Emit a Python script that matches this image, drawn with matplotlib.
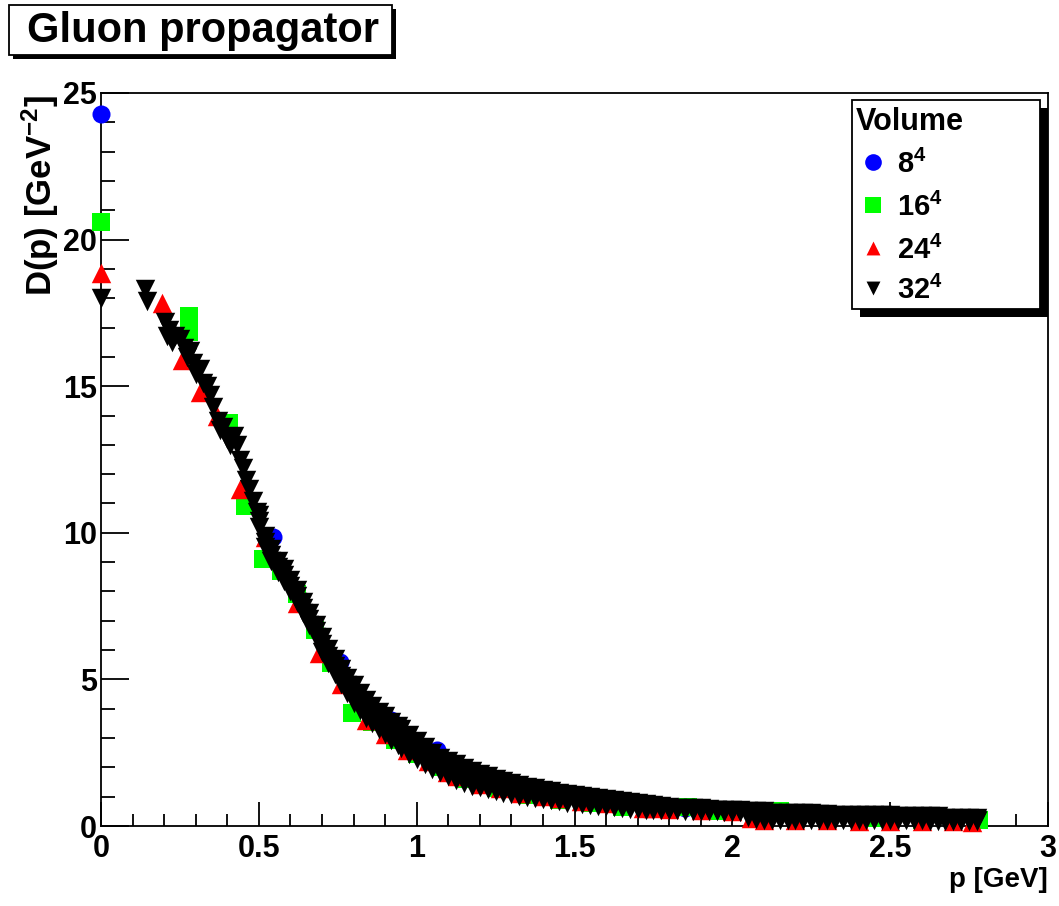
import matplotlib
matplotlib.use("Agg")
import matplotlib.pyplot as plt
from matplotlib.patches import Rectangle
from matplotlib.ticker import MultipleLocator, FuncFormatter

W, H = 1059, 906

plt.rcParams['font.family'] = ['Liberation Sans', 'DejaVu Sans']
plt.rcParams['font.weight'] = 'bold'
plt.rcParams['mathtext.fontset'] = 'custom'
plt.rcParams['mathtext.rm'] = 'Liberation Sans:bold'
plt.rcParams['mathtext.it'] = 'Liberation Sans:bold'
plt.rcParams['mathtext.bf'] = 'Liberation Sans:bold'

# 8^4 lattice
v8_p = [0.0, 0.545, 0.757, 0.92, 1.063, 1.3, 1.55, 1.85, 2.2]
v8_d = [24.3, 9.86, 5.6, 3.62, 2.6, 1.3, 0.85, 0.6, 0.4]

# 16^4 lattice
v16_p = [0.0, 0.28, 0.28, 0.405, 0.455, 0.513, 0.57, 0.62, 0.678, 0.73,
         0.795, 0.86, 0.93, 1.0, 1.08, 1.16, 1.25, 1.35, 1.45, 1.55,
         1.65, 1.75, 1.86, 1.96, 2.15, 2.3, 2.45, 2.6, 2.78]
v16_d = [20.6, 17.4, 16.85, 13.75, 10.9, 9.1, 8.7, 7.9, 6.7, 5.55,
         3.85, 3.55, 2.95, 2.45, 2.0, 1.62, 1.3, 1.07, 0.9, 0.78,
         0.66, 0.6, 0.66, 0.5, 0.5, 0.3, 0.28, 0.22, 0.22]

# 24^4 lattice
v24_p = [0.0, 0.192, 0.256, 0.314, 0.366, 0.44, 0.519, 0.62, 0.69, 0.76,
         0.84, 0.9, 0.968, 1.036, 1.095, 1.127, 1.2, 1.264, 1.33, 1.4,
         1.454, 1.52, 1.6, 1.717, 1.75, 1.8, 1.9, 2.0, 2.06, 2.1,
         2.2, 2.3, 2.4, 2.5, 2.6, 2.7, 2.76]
v24_d = [18.85, 17.85, 15.9, 14.8, 14.0, 11.5, 9.86, 7.6, 5.9, 4.85,
         3.6, 3.15, 2.58, 2.2, 1.85, 1.7, 1.43, 1.3, 1.14, 1.02,
         0.94, 0.85, 0.77, 0.63, 0.6, 0.57, 0.55, 0.52, 0.28, 0.2,
         0.2, 0.19, 0.18, 0.18, 0.17, 0.16, 0.15]

# 32^4 lattice, infrared points
v32_p_ir = [0.0, 0.139, 0.145, 0.203, 0.208, 0.215, 0.225, 0.235, 0.25, 0.262,
            0.272, 0.282, 0.29, 0.30, 0.314, 0.322, 0.335, 0.345, 0.355, 0.37,
            0.378, 0.388, 0.40, 0.41, 0.42, 0.43, 0.44, 0.45, 0.46, 0.47,
            0.48, 0.493]
v32_d_ir = [18.0, 18.3, 17.9, 17.2, 16.7, 16.9, 16.5, 16.7, 16.6, 16.3,
            16.0, 16.2, 15.8, 15.4, 15.6, 15.1, 15.0, 14.7, 14.3, 13.8,
            13.5, 13.6, 13.2, 13.0, 13.3, 13.0, 12.5, 12.2, 11.8, 11.5,
            11.1, 10.7]

# 32^4 lattice above 0.5 GeV: upper, middle and lower spread of the band
v32_p = [0.50, 0.52, 0.54, 0.56, 0.58, 0.60, 0.62, 0.64, 0.66, 0.68,
         0.70, 0.72, 0.74, 0.76, 0.78, 0.80, 0.82, 0.84, 0.86, 0.88,
         0.90, 0.92, 0.94,
         0.950, 0.975, 1.000, 1.025, 1.050, 1.075, 1.100, 1.125, 1.150, 1.175,
         1.200, 1.225, 1.250, 1.275, 1.300, 1.325, 1.350, 1.375, 1.400, 1.425,
         1.450, 1.475, 1.500, 1.525, 1.550, 1.575, 1.600, 1.625, 1.650, 1.675,
         1.700, 1.725, 1.750, 1.775, 1.800, 1.825, 1.850, 1.875, 1.900, 1.925,
         1.950, 1.975, 2.000, 2.025, 2.050, 2.075, 2.100, 2.125, 2.150, 2.175,
         2.200, 2.225, 2.250, 2.275, 2.300, 2.325, 2.350, 2.375, 2.400, 2.425,
         2.450, 2.475, 2.500, 2.525, 2.550, 2.575, 2.600, 2.625, 2.650, 2.675,
         2.700, 2.725, 2.750, 2.775]
v32_d_hi = [10.6, 9.9, 9.45, 9.05, 8.75, 8.4, 8.05, 7.65, 7.25, 6.85,
            6.45, 6.05, 5.7, 5.35, 5.05, 4.8, 4.55, 4.3, 4.1, 3.9,
            3.75, 3.55, 3.4,
            3.32, 3.1, 2.9, 2.68, 2.48, 2.33, 2.2, 2.1, 1.99, 1.89,
            1.79, 1.69, 1.60, 1.52, 1.45, 1.39, 1.33, 1.28, 1.23, 1.18,
            1.14, 1.10, 1.06, 1.02, 0.98, 0.94, 0.91, 0.88, 0.84, 0.81,
            0.77, 0.74, 0.71, 0.67, 0.64, 0.63, 0.62, 0.61, 0.60, 0.59,
            0.56, 0.54, 0.53, 0.53, 0.52, 0.51, 0.50, 0.46, 0.45, 0.44,
            0.44, 0.44, 0.43, 0.42, 0.42, 0.37, 0.37, 0.36, 0.36, 0.36,
            0.36, 0.36, 0.36, 0.35, 0.35, 0.35, 0.35, 0.35, 0.34, 0.27,
            0.27, 0.27, 0.26, 0.26]
v32_d_mid = [10.4, 9.7, 9.25, 8.85, 8.55, 8.2, 7.85, 7.45, 7.05, 6.65,
             6.2, 5.8, 5.45, 5.1, 4.8, 4.5, 4.25, 4.0, 3.8, 3.6,
             3.45, 3.25, 3.08,
             3.00, 2.78, 2.58, 2.38, 2.21, 2.08, 1.95, 1.83, 1.73, 1.63,
             1.55, 1.47, 1.40, 1.33, 1.27, 1.21, 1.16, 1.11, 1.07, 1.03,
             0.99, 0.95, 0.92, 0.88, 0.85, 0.82, 0.79, 0.76, 0.73, 0.70,
             0.67, 0.64, 0.62, 0.60, 0.58, 0.57, 0.57, 0.56, 0.55, 0.55,
             0.53, 0.52, 0.50, 0.50, 0.41, 0.37, 0.36, 0.34, 0.33, 0.33,
             0.33, 0.32, 0.32, 0.31, 0.31, 0.29, 0.28, 0.28, 0.28, 0.28,
             0.28, 0.28, 0.28, 0.27, 0.27, 0.27, 0.27, 0.26, 0.26, 0.22,
             0.22, 0.22, 0.21, 0.21]
v32_d_lo = [10.2, 9.5, 9.05, 8.65, 8.35, 8.0, 7.65, 7.25, 6.85, 6.45,
            5.95, 5.55, 5.2, 4.85, 4.55, 4.2, 3.95, 3.7, 3.5, 3.3,
            3.15, 2.95, 2.75,
            2.67, 2.45, 2.27, 2.10, 1.95, 1.83, 1.70, 1.57, 1.47, 1.38,
            1.32, 1.26, 1.21, 1.14, 1.08, 1.03, 0.98, 0.94, 0.91, 0.87,
            0.84, 0.80, 0.77, 0.74, 0.71, 0.69, 0.67, 0.64, 0.62, 0.59,
            0.57, 0.55, 0.54, 0.54, 0.53, 0.53, 0.52, 0.52, 0.51, 0.51,
            0.50, 0.49, 0.48, 0.47, 0.30, 0.23, 0.22, 0.22, 0.22, 0.22,
            0.22, 0.21, 0.21, 0.21, 0.21, 0.20, 0.20, 0.20, 0.20, 0.20,
            0.20, 0.20, 0.20, 0.19, 0.19, 0.19, 0.19, 0.18, 0.18, 0.18,
            0.18, 0.17, 0.17, 0.17]

legend_labels = ['$8^{4}$', '$16^{4}$', '$24^{4}$', '$32^{4}$']


def fx(x):
    return x / W


def fy(y):
    return 1 - y / H


fig = plt.figure(figsize=(W / 100, H / 100), dpi=100)
fig.patch.set_facecolor('white')

# frame: x 101..1048, y 93..826 px
ax = fig.add_axes([fx(101), fy(826), (1048 - 101) / W, (826 - 93) / H])
ax.set_xlim(0, 3)
ax.set_ylim(0, 25)
for s in ax.spines.values():
    s.set_linewidth(1.3)

ax.xaxis.set_major_locator(MultipleLocator(0.5))
ax.xaxis.set_minor_locator(MultipleLocator(0.1))
ax.yaxis.set_major_locator(MultipleLocator(5))
ax.yaxis.set_minor_locator(MultipleLocator(1))
ax.xaxis.set_major_formatter(FuncFormatter(lambda v, _: '%g' % v))
ax.yaxis.set_major_formatter(FuncFormatter(lambda v, _: '%g' % v))
ax.tick_params(axis='both', which='both', direction='in', width=1.3,
               top=False, right=False, labelsize=22)
ax.tick_params(axis='x', which='major', length=17, pad=6)
ax.tick_params(axis='x', which='minor', length=8.5)
ax.tick_params(axis='y', which='major', length=20, pad=3)
ax.tick_params(axis='y', which='minor', length=10)

mk = dict(linewidths=0, clip_on=False)
tri = 14
ax.scatter(v8_p, v8_d, s=13 ** 2, marker='o', color='#0000ff', zorder=3, **mk)
ax.scatter(v16_p, v16_d, s=12.5 ** 2, marker='s', color='#00ff00', zorder=4, **mk)
ax.scatter(v24_p, v24_d, s=tri ** 2, marker='^', color='#ff0000', zorder=5, **mk)
ax.scatter(v32_p_ir, v32_d_ir, s=tri ** 2, marker='v', color='black', zorder=6, **mk)
for band in (v32_d_hi, v32_d_mid, v32_d_lo):
    ax.scatter(v32_p, band, s=tri ** 2, marker='v', color='black', zorder=6, **mk)

# axis titles, right/top aligned like ROOT
fig.text(fx(1048), fy(880), 'p [GeV]', ha='right', va='center', fontsize=20,
         fontweight='bold')
fig.text(fx(40), fy(95), 'D(p) [GeV$^{-2}$]', ha='center', va='top',
         rotation=90, fontsize=25, fontweight='bold')

# overlay in pixel coordinates for the title pave and legend
ov = fig.add_axes([0, 0, 1, 1], zorder=10)
ov.set_xlim(0, W)
ov.set_ylim(H, 0)
ov.axis('off')
ov.patch.set_alpha(0)

# title pave with shadow
ov.add_patch(Rectangle((13, 9), 383, 50, facecolor='black', edgecolor='none'))
ov.add_patch(Rectangle((9, 5), 383, 50, facecolor='white', edgecolor='black',
                       linewidth=1.3))
ov.text(203, 31, 'Gluon propagator', ha='center', va='center', fontsize=30,
        fontweight='bold')

# legend with shadow
ov.add_patch(Rectangle((860, 108), 188, 209, facecolor='black', edgecolor='none'))
ov.add_patch(Rectangle((852, 100), 188, 209, facecolor='white', edgecolor='black',
                       linewidth=1.3))
ov.text(856, 122, 'Volume', ha='left', va='center', fontsize=22, fontweight='bold')
rows = [162, 205, 248, 288]
styles = [('o', '#0000ff', 12), ('s', '#00ff00', 12),
          ('^', '#ff0000', 10), ('v', 'black', 10)]
for yrow, (m, c, ms), lab in zip(rows, styles, legend_labels):
    ov.scatter([873], [yrow], s=ms ** 2, marker=m, color=c, linewidths=0)
    ov.text(897, yrow + 2, lab, ha='left', va='center', fontsize=21)

fig.savefig('out.png', dpi=100)
